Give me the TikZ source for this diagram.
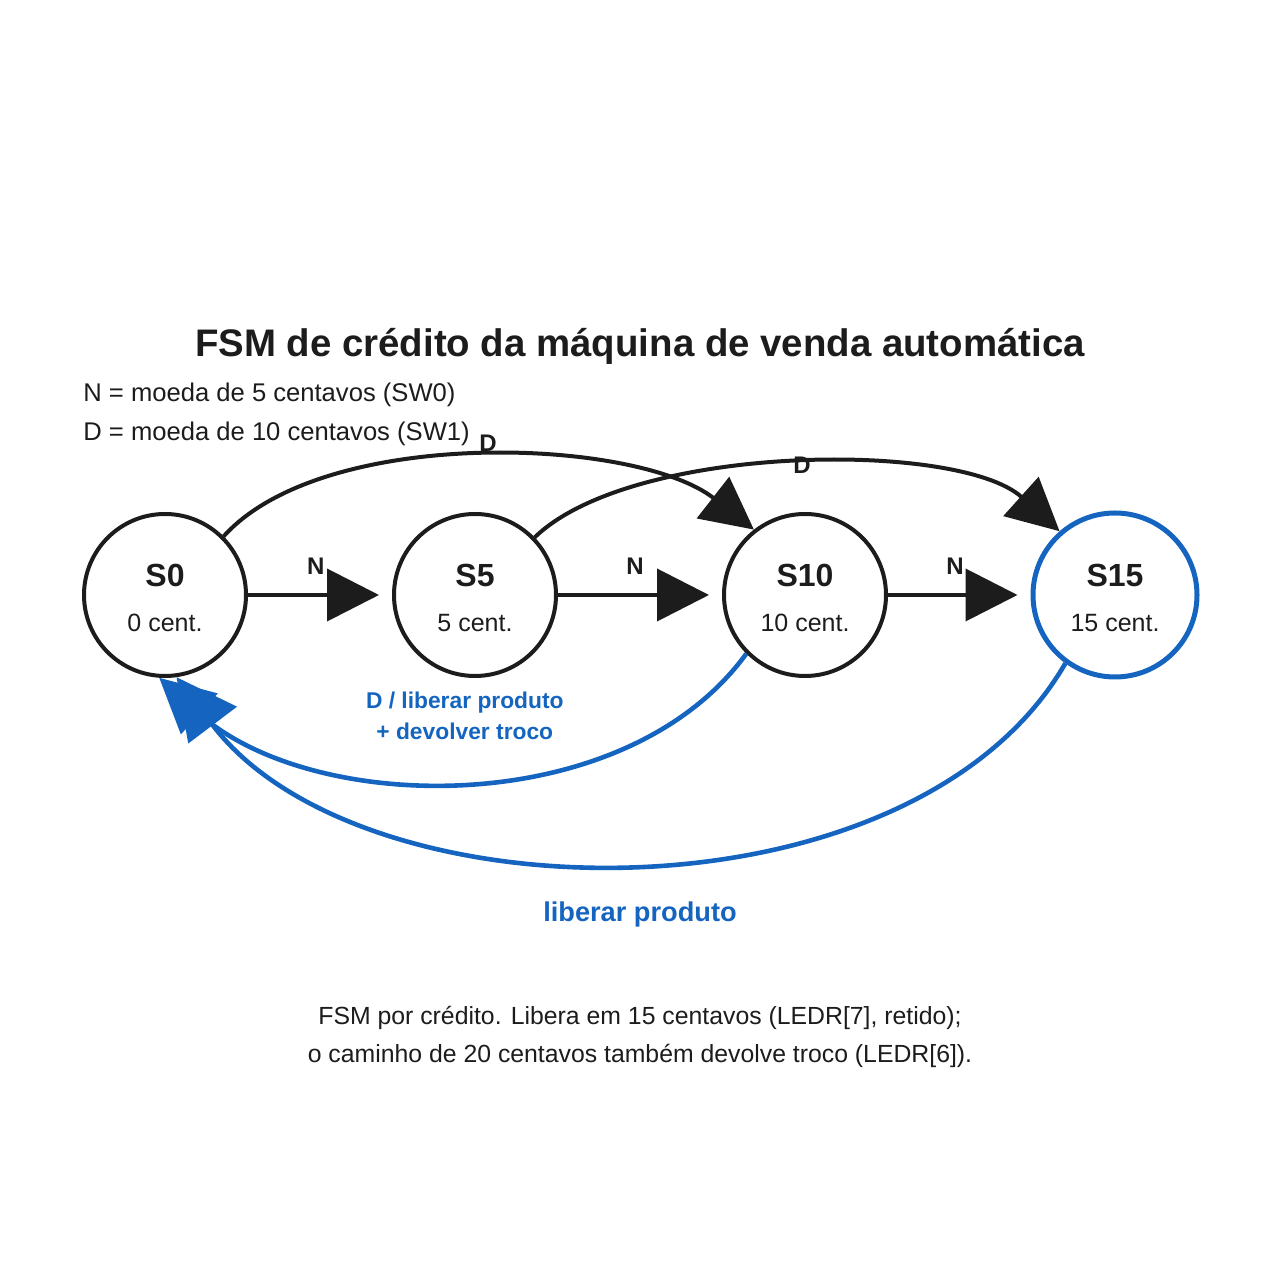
\documentclass[tikz,border=0pt]{standalone}
\usepackage{fontspec}
\setmainfont{Liberation Sans}
\usepackage{tikz}
\usetikzlibrary{positioning, calc}
\usetikzlibrary{arrows.meta}
\definecolor{inkblack}{HTML}{1C1C1C}
\definecolor{relblue}{HTML}{1565C0}
\tikzstyle{statebox}=[circle,line width=2pt,draw=inkblack,text=inkblack,
minimum size=81pt,inner sep=0pt,align=center,font=\fontsize{16}{16}\selectfont]
\tikzstyle{finalbox}=[statebox,draw=relblue,line width=2.5pt,minimum size=82pt]
\tikzstyle{textbox}=[rectangle,inner sep=0pt,text=inkblack]
\tikzstyle{edgelabel}=[textbox,font=\fontsize{12}{12}\bfseries\selectfont]
\tikzstyle{bluelabel}=[textbox,text=relblue,align=center]
\tikzstyle{nextedge} = [-{Triangle[length=26pt,width=26pt]},line width=2pt,
draw=inkblack]
\tikzstyle{resetedge} = [-{Triangle[length=27pt,width=27pt]},line width=2.3pt,
draw=relblue]
\def \nodegap {72pt}
\newcommand{\statetext}[2]{\raisebox{-4pt}[\height][\depth]{\begin{tabular}{@{}c@{}}{\bfseries #1}\\[6.5pt]{\fontsize{12.5}{15}\selectfont #2}\end{tabular}}}

\begin{document}
\begin{tikzpicture}[x=0.5pt,y=0.5pt]
    \useasboundingbox (0,0) rectangle (1280,1280);
    \node[textbox, anchor=base, font=\fontsize{19.2}{23}\bfseries\selectfont] (title)
        at (640,923) {FSM de crédito da máquina de venda automática};
    \node[textbox, anchor=north west, align=left, font=\fontsize{12.8}{19.5}\selectfont] (legend)
        at (83,897) {N = moeda de 5 centavos (SW0)\\D = moeda de 10 centavos (SW1)};

    \node[statebox] (s0) at (165,685) {\statetext{S0}{0 cent.}};
    \node[statebox, right=\nodegap of s0] (s5) {\statetext{S5}{5 cent.}};
    \node[statebox, right=82pt of s5] (s10) {\statetext{S10}{10 cent.}};
    \node[finalbox, right=71.25pt of s10] (s15) {\statetext{S15}{15 cent.}};

    \draw[nextedge, shorten >=6.5pt]
        (s0) -- node[edgelabel, pos=0.47, above=9pt] {N} (s5);
    \draw[nextedge, shorten >=6.5pt]
        (s5) -- node[edgelabel, pos=0.47, above=9pt] {N} (s10);
    \draw[nextedge, shorten >=6.5pt]
        (s10) -- node[edgelabel, pos=0.47, above=9pt] {N} (s15);
    \draw[nextedge]
        (s0.45) to[out=48, in=142, looseness=0.72]
        node[edgelabel, above=1.5pt, xshift=3pt] {D} (s10.128);
    \draw[nextedge]
        (s5.44) to[out=44, in=138, looseness=0.66]
        node[edgelabel, xshift=3pt] {D} (s15.131);

    \draw[resetedge]
        (s10.225) to[out=234, in=-42, looseness=0.9]
        node[bluelabel, above=19pt, font=\fontsize{11.4}{15.5}\bfseries\selectfont]
        {D / liberar produto\\+ devolver troco} (s0.266);
    \draw[resetedge, -{Triangle[length=30pt,width=30pt]}]
        (s15.234) to[out=240, in=-53, looseness=0.88] (s0.278);
    \node[bluelabel, font=\fontsize{13.6}{16}\bfseries\selectfont] (freelabel)
        at (640,366) {liberar produto};

    \node[textbox, align=center, font=\fontsize{12.4}{19}\selectfont] (caption)
        at (640,243) {FSM por crédito. Libera em 15 centavos (LEDR[7], retido);\\o caminho de 20 centavos também devolve troco (LEDR[6]).};
\end{tikzpicture}
\end{document}
